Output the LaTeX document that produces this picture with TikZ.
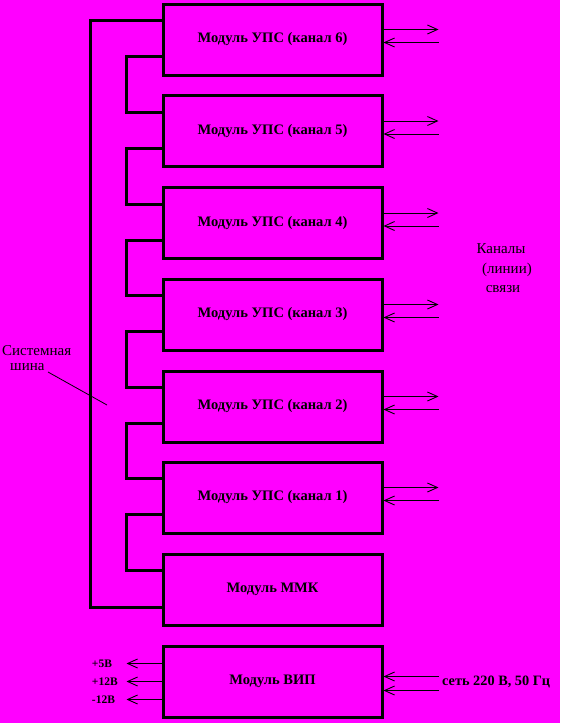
\documentclass[tikz,border=0pt]{standalone}
\usepackage{fontspec}
\setmainfont{Liberation Serif}
\usetikzlibrary{arrows.meta,calc}
\definecolor{bgmag}{RGB}{255,0,255}
\begin{document}
\begin{tikzpicture}[x=1pt,y=-1pt,
 modbox/.style={draw,line width=3pt,minimum width=219pt,minimum height=71pt,inner sep=0pt,font=\fontsize{14.5}{16}\selectfont\bfseries},
 busline/.style={line width=3pt},
 sig/.style={line width=0.9pt,-{Straight Barb[length=10pt,width=9pt]}},
 lbl/.style={inner sep=0pt,font=\fontsize{15}{17}\selectfont},
 vlbl/.style={inner sep=0pt,anchor=west,font=\fontsize{11.5}{13}\selectfont\bfseries}]
\fill[bgmag] (0,0) rectangle (560,723);
\useasboundingbox (0,0) rectangle (560,723);
% modules
\node[modbox] (b6) at (272.5,39.5) {Модуль УПС (канал 6)};
\node[modbox] (b5) at (272.5,131) {Модуль УПС (канал 5)};
\node[modbox] (b4) at (272.5,223) {Модуль УПС (канал 4)};
\node[modbox] (b3) at (272.5,314.5) {Модуль УПС (канал 3)};
\node[modbox] (b2) at (272.5,406.5) {Модуль УПС (канал 2)};
\node[modbox] (b1) at (272.5,497.5) {Модуль УПС (канал 1)};
\node[modbox] (mmk) at (272.5,589.5) {Модуль ММК};
\node[modbox] (vip) at (272.5,681.5) {Модуль ВИП};
% system bus
\draw[busline] ($(b6.north west)+(0,18)$) -- ++(-71,0) |- ($(mmk.north west)+(0,55)$);
\foreach \a/\b in {b6/b5,b5/b4,b4/b3,b3/b2,b2/b1,b1/mmk}{
  \draw[busline] ($(\a.north west)+(0,54)$) -- ++(-35,0) |- ($(\b.north west)+(0,18)$);
}
% channel lines
\foreach \m in {b6,b5,b4,b3,b2,b1}{
  \draw[sig] ($(\m.north east)+(0,27)$) -- ++(55,0);
  \draw[sig] ($(\m.north east)+(55,40)$) -- ($(\m.north east)+(0,40)$);
}
% power
\draw[sig] ($(vip.north west)+(0,19)$) -- ++(-35,0) node[vlbl,xshift=-35pt] (v1) {+5В};
\draw[sig] ($(vip.north west)+(0,37)$) -- ++(-35,0) node[vlbl,xshift=-35pt] (v2) {+12В};
\draw[sig] ($(vip.north west)+(0,55)$) -- ++(-35,0) node[vlbl,xshift=-35pt] (v3) {-12В};
\draw[sig] ($(vip.north east)+(55,32)$) -- ($(vip.north east)+(0,32)$);
\draw[sig] ($(vip.north east)+(55,46)$) -- ($(vip.north east)+(0,46)$);
\node[vlbl,font=\fontsize{14.3}{16}\selectfont\bfseries] (net) at (442,682) {сеть 220 В, 50 Гц};
% labels
\node[lbl,anchor=west] (sys1) at (2,350.5) {Системная};
\node[lbl,anchor=west] (sys2) at (10,367.5) {шина};
\coordinate (busp) at (107,405);
\draw[line width=0.8pt] (48,372) -- (busp);
\node[lbl] (k1) at (501,249) {Каналы};
\node[lbl] (k2) at (507,270) {(линии)};
\node[lbl] (k3) at (503,289) {связи};
\end{tikzpicture}
\end{document}
